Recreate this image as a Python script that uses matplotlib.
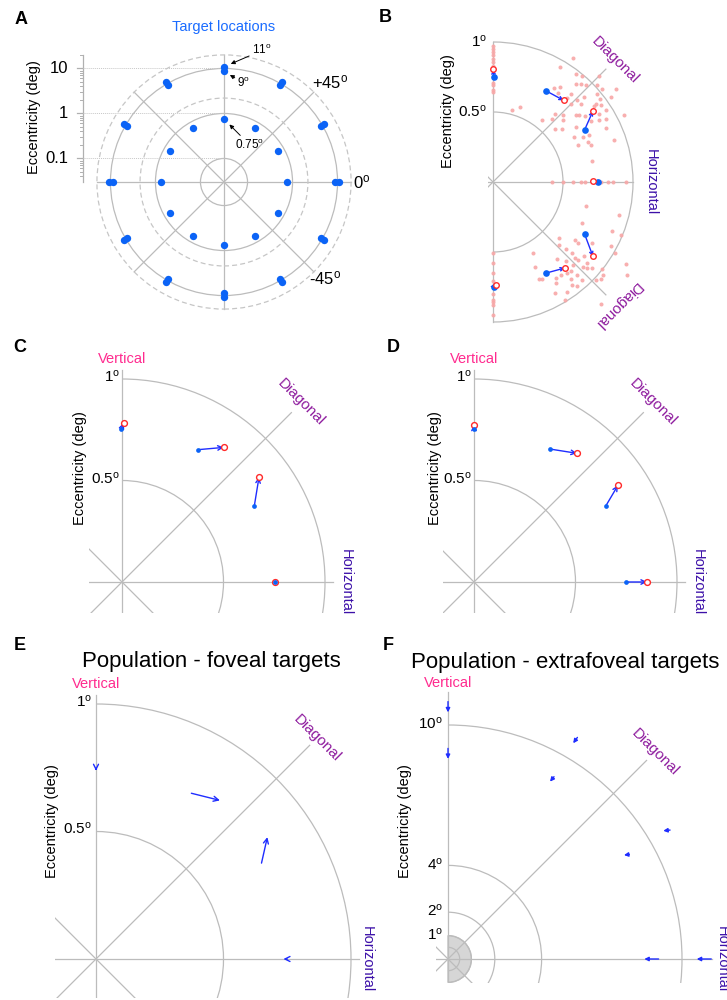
import numpy as np
import matplotlib
matplotlib.use("Agg")
import matplotlib.pyplot as plt
from matplotlib.patches import Arc, Circle, Wedge

plt.rcParams["font.family"] = ["Liberation Sans", "DejaVu Sans"]
plt.rcParams["mathtext.fontset"] = "custom"
plt.rcParams["mathtext.rm"] = "Liberation Sans"
plt.rcParams["mathtext.it"] = "Liberation Sans:italic"
plt.rcParams["mathtext.bf"] = "Liberation Sans:bold"

FIG_W, FIG_H = 727, 1000

GRID = "#bcbcbc"
DASH = "#c6c6c6"
DOT_BLUE = "#0b63f6"
ARROW_BLUE = "#1f2dff"
LAND_RED = "#ff2a2a"
TRIAL_PINK = "#f8a7a7"
VERT_COL = "#ff2b8f"
DIAG_COL = "#8e1b9e"
HORIZ_COL = "#3c10a8"

# --------------------------------------------------------------------------- #
# Data
# --------------------------------------------------------------------------- #
# A: target layout (eccentricity in deg, direction in deg)
TARGET_ANGLES = np.arange(0, 360, 30)
TARGET_ECC = [0.75, 9.0, 11.0]
RINGS_SOLID = [0.1, 1.0, 10.0]
RINGS_DASHED = [2.2, 20.0]
ECC_MAJOR = [0.1, 1.0, 10.0]
ECC_MAJOR_LABELS = ["0.1", "1", "10"]
ECC_MINOR = [0.04, 0.05, 0.06, 0.07, 0.08, 0.09,
             0.2, 0.3, 0.4, 0.5, 0.6, 0.7, 0.8, 0.9,
             2, 3, 4, 5, 6, 7, 8, 9, 20]
ECC_ORIGIN = 0.03

# B: single session, targets, mean landing and single trials (deg)
B_TARGET_X = [0.005, 0.381, 0.655, 0.752, 0.655, 0.381, 0.005]
B_TARGET_Y = [0.750, 0.650, 0.374, 0.0, -0.374, -0.650, -0.750]
B_LAND_X = [0.002, 0.505, 0.714, 0.714, 0.714, 0.514, 0.024]
B_LAND_Y = [0.805, 0.583, 0.507, 0.007, -0.531, -0.614, -0.738]

B_TRIAL_X = [
    # upper cloud
    0.574, 0.479, 0.590, 0.633, 0.757, 0.436, 0.479, 0.590, 0.626, 0.662,
    0.745, 0.781, 0.876, 0.464, 0.560, 0.531, 0.650, 0.745, 0.840, 0.762,
    0.560, 0.626, 0.598, 0.733, 0.721, 0.769, 0.193, 0.138, 0.440, 0.500,
    0.590, 0.614, 0.655, 0.757, 0.805, 0.936, 0.352, 0.424, 0.502, 0.698,
    0.757, 0.805, 0.440, 0.493, 0.590, 0.805, 0.579, 0.643, 0.686, 0.864,
    0.610, 0.679, 0.698, 0.710,
    # lower cloud
    0.662, 0.900, 0.638, 0.852, 0.912, 0.471, 0.583, 0.607, 0.710, 0.471,
    0.840, 0.524, 0.567, 0.871, 0.288, 0.650, 0.586, 0.455, 0.519, 0.610,
    0.669, 0.571, 0.645, 0.671, 0.710, 0.300, 0.948, 0.560, 0.781, 0.531,
    0.602, 0.483, 0.788, 0.960, 0.329, 0.352, 0.448, 0.555, 0.638, 0.733,
    0.769, 0.448, 0.567, 0.598, 0.531, 0.440, 0.514, 0.769,
    # vertical (upper), vertical (lower), horizontal
    0, 0, 0, 0, 0, 0, 0, 0, 0, 0, 0,
    0, 0, 0, 0, 0, 0, 0, 0, 0,
    0.42, 0.50, 0.57, 0.63, 0.66, 0.72, 0.77, 0.82, 0.86, 0.95,
]
B_TRIAL_Y = [
    0.888, 0.821, 0.769, 0.757, 0.757, 0.674, 0.679, 0.698, 0.698, 0.690,
    0.690, 0.667, 0.662, 0.638, 0.626, 0.600, 0.607, 0.631, 0.607, 0.590,
    0.560, 0.560, 0.583, 0.560, 0.543, 0.548, 0.536, 0.512, 0.488, 0.481,
    0.476, 0.476, 0.471, 0.488, 0.512, 0.476, 0.440, 0.452, 0.440, 0.436,
    0.440, 0.452, 0.381, 0.381, 0.393, 0.388, 0.321, 0.321, 0.333, 0.302,
    0.262, 0.286, 0.262, 0.150,
    -0.174, -0.238, -0.290, -0.350, -0.376, -0.400, -0.417, -0.436, -0.436, -0.448,
    -0.457, -0.481, -0.505, -0.505, -0.505, -0.529, -0.540, -0.548, -0.567, -0.560,
    -0.576, -0.590, -0.607, -0.614, -0.614, -0.607, -0.588, -0.636, -0.624, -0.650,
    -0.662, -0.662, -0.667, -0.667, -0.690, -0.690, -0.686, -0.690, -0.702, -0.698,
    -0.690, -0.719, -0.738, -0.745, -0.786, -0.790, -0.840, -0.869,
    0.97, 0.95, 0.93, 0.91, 0.88, 0.86, 0.83, 0.71, 0.69, 0.66, 0.64,
    -0.51, -0.58, -0.65, -0.71, -0.80, -0.84, -0.86, -0.88, -0.95,
    0, 0, 0, 0, 0, 0, 0, 0, 0, 0,
]

# C, D: example sessions, foveal targets
C_TARGET_X = [-0.003, 0.376, 0.652, 0.752]
C_TARGET_Y = [0.754, 0.652, 0.376, 0.0]
C_LAND_X = [0.008, 0.501, 0.675, 0.752]
C_LAND_Y = [0.783, 0.663, 0.517, 0.0]

D_TARGET_X = [0.0, 0.374, 0.650, 0.750]
D_TARGET_Y = [0.755, 0.655, 0.376, 0.0]
D_LAND_X = [0.0, 0.507, 0.709, 0.852]
D_LAND_Y = [0.775, 0.634, 0.476, 0.0]

# E, F: population mean shifts
E_TAIL_X = [0.0, 0.374, 0.649, 0.750]
E_TAIL_Y = [0.750, 0.650, 0.376, 0.0]
E_HEAD_X = [0.0, 0.486, 0.672, 0.735]
E_HEAD_Y = [0.738, 0.622, 0.478, 0.0]

F_TAIL_X = [0.0, 0.0, 5.53, 4.53, 9.49, 7.75, 11.25, 9.0]
F_TAIL_Y = [11.0, 9.0, 9.47, 7.79, 5.51, 4.47, 0.0, 0.0]
F_HEAD_X = [0.0, 0.0, 5.35, 4.36, 9.20, 7.52, 10.63, 8.39]
F_HEAD_Y = [10.54, 8.55, 9.22, 7.58, 5.48, 4.44, 0.0, 0.0]
F_RINGS = [0.5, 1, 2, 4, 10]
F_RING_LABELS = [1, 2, 4, 10]


def deg(s):
    return f"{s}" + r"$^{\mathrm{o}}$"


def panel_axes(fig, box, center, scale):
    """Axes in data units of `scale` pixels, origin at pixel `center`."""
    x0, y0, x1, y1 = box
    cx, cy = center
    ax = fig.add_axes([x0 / FIG_W, 1 - y1 / FIG_H,
                       (x1 - x0) / FIG_W, (y1 - y0) / FIG_H])
    ax.set_xlim((x0 - cx) / scale, (x1 - cx) / scale)
    ax.set_ylim((cy - y1) / scale, (cy - y0) / scale)
    ax.axis("off")
    return ax


def guides(ax, vert, horiz, diag, anti, lw=0.9):
    c45 = np.cos(np.pi / 4)
    ax.plot([0, 0], vert, color=GRID, lw=lw, zorder=1)
    ax.plot(horiz, [0, 0], color=GRID, lw=lw, zorder=1)
    d = np.array(diag)
    ax.plot(d * c45, d * c45, color=GRID, lw=lw, zorder=1)
    a = np.array(anti)
    ax.plot(-a * c45, a * c45, color=GRID, lw=lw, zorder=1)


def half_rings(ax, radii, lw=0.9):
    for r in radii:
        ax.add_patch(Arc((0, 0), 2 * r, 2 * r, theta1=-90, theta2=90,
                         color=GRID, lw=lw, zorder=1))


def direction_labels(ax, vert_y, diag_r, horiz_x, size=10.5, vertical=True):
    c45 = np.cos(np.pi / 4)
    if vertical:
        ax.text(0, vert_y, "Vertical", color=VERT_COL, fontsize=size,
                ha="center", va="center")
    ax.text(diag_r * c45, diag_r * c45, "Diagonal", color=DIAG_COL,
            fontsize=size + 0.5, rotation=-45, ha="center", va="center",
            rotation_mode="anchor")
    ax.text(horiz_x, 0, "Horizontal", color=HORIZ_COL, fontsize=size,
            rotation=-90, ha="center", va="center", rotation_mode="anchor")


def shift_arrows(ax, tx, ty, hx, hy, style="->", scale=8, lw=1.0):
    for x0, y0, x1, y1 in zip(tx, ty, hx, hy):
        ax.annotate("", xy=(x1, y1), xytext=(x0, y0),
                    arrowprops=dict(arrowstyle=style, color=ARROW_BLUE, lw=lw,
                                    shrinkA=0, shrinkB=0,
                                    mutation_scale=scale),
                    zorder=3)


fig = plt.figure(figsize=(FIG_W / 100, FIG_H / 100), dpi=100)

# --------------------------------------------------------------------------- #
# A: target locations on a log-eccentricity polar grid
# --------------------------------------------------------------------------- #
def rho(r):
    return np.log10(np.asarray(r, dtype=float) / ECC_ORIGIN)


axA = panel_axes(fig, (0, 20, 370, 325), (224, 182), 45)
rmax = rho(20.0)
guides(axA, (-rmax, rmax), (-rmax, rmax), (-rmax, rmax), (-rmax, rmax))
for r in RINGS_SOLID:
    axA.add_patch(Circle((0, 0), rho(r), fill=False, ec=GRID, lw=0.9, zorder=1))
for r in RINGS_DASHED:
    axA.add_patch(Circle((0, 0), rho(r), fill=False, ec=DASH, lw=0.9,
                         ls=(0, (4, 2.5)), zorder=1))

th = np.deg2rad(TARGET_ANGLES)
for e in TARGET_ECC:
    axA.plot(rho(e) * np.cos(th), rho(e) * np.sin(th), "o", color=DOT_BLUE,
             ms=5.3, mec="none", zorder=3)

# eccentricity axis on the left
ax_x = -3.133
axA.plot([ax_x, ax_x], [0, rmax], color="#b0b0b0", lw=0.9)
for v in ECC_MINOR:
    axA.plot([ax_x - 0.07, ax_x], [rho(v)] * 2, color="#b0b0b0", lw=0.7)
for v, lab in zip(ECC_MAJOR, ECC_MAJOR_LABELS):
    axA.plot([ax_x - 0.14, ax_x], [rho(v)] * 2, color="#b0b0b0", lw=0.9)
    axA.plot([ax_x, 0], [rho(v)] * 2, color="#c8c8c8", lw=0.7, ls=(0, (1, 1)))
    axA.text(ax_x - 0.33, rho(v), lab, ha="right", va="center", fontsize=12)
axA.text(-4.22, 1.44, "Eccentricity (deg)", rotation=90, ha="center",
         va="center", fontsize=10.5)
axA.text(0, 3.44, "Target locations", color="#1a6cff", ha="center",
         va="center", fontsize=10.5)
axA.text(2.36, 2.22, deg("+45"), ha="center", va="center", fontsize=12)
axA.text(3.07, 0.0, deg("0"), ha="center", va="center", fontsize=12)
axA.text(2.24, -2.13, deg("-45"), ha="center", va="center", fontsize=12)

ann = dict(arrowstyle="-|>", color="black", lw=0.7, mutation_scale=6,
           shrinkA=0, shrinkB=0)
axA.annotate(deg("11"), xy=(0.15, rho(11) + 0.06), xytext=(0.62, 2.92),
             fontsize=8.5, ha="left", va="center", arrowprops=ann)
axA.annotate(deg("9"), xy=(0.13, rho(9) - 0.1), xytext=(0.30, 2.2),
             fontsize=8.5, ha="left", va="center", arrowprops=ann)
axA.annotate(deg("0.75"), xy=(0.12, rho(0.75) - 0.12), xytext=(0.25, 0.82),
             fontsize=8.5, ha="left", va="center", arrowprops=ann)

# --------------------------------------------------------------------------- #
# B: single session, all trials
# --------------------------------------------------------------------------- #
axB = panel_axes(fig, (488, 30, 670, 330), (493, 182), 140)
guides(axB, (-1.0, 1.0), (-0.1, 1.0), (-0.1, 1.14), (-1.14, 0.1))
half_rings(axB, [0.5, 1.0])
axB.plot(B_TRIAL_X, B_TRIAL_Y, "o", color=TRIAL_PINK, ms=2.9, mec="none",
         alpha=0.9, zorder=2, clip_on=False)
shift_arrows(axB, B_TARGET_X, B_TARGET_Y, B_LAND_X, B_LAND_Y, scale=6)
axB.plot(B_TARGET_X, B_TARGET_Y, "o", color=DOT_BLUE, ms=4.8, mec="none",
         zorder=4, clip_on=False)
axB.plot(B_LAND_X, B_LAND_Y, "o", mfc="white", mec=LAND_RED, ms=4.0, mew=1.0,
         zorder=5, clip_on=False)
axB.text(-0.045, 1.0, deg("1"), ha="right", va="center", fontsize=11)
axB.text(-0.045, 0.5, deg("0.5"), ha="right", va="center", fontsize=11)
axB.text(-0.32, 0.51, "Eccentricity (deg)", rotation=90, ha="center",
         va="center", fontsize=10.5)
direction_labels(axB, 0, 1.23, 1.13, vertical=False)
axB.text(0.886, -0.879, "Diagonal", color=DIAG_COL, fontsize=11,
         rotation=-135, ha="center", va="center", rotation_mode="anchor")

# --------------------------------------------------------------------------- #
# C, D: example sessions, mean shift per target
# --------------------------------------------------------------------------- #
def session_panel(box, center, tx, ty, lx, ly, label_x):
    ax = panel_axes(fig, box, center, 203)
    guides(ax, (-1.0, 1.044), (-1.0, 1.04), (-1.0, 1.18), (-1.0, 1.0))
    half_rings(ax, [0.5, 1.0])
    shift_arrows(ax, tx, ty, lx, ly, scale=8)
    ax.plot(lx, ly, "o", mfc="white", mec=LAND_RED, ms=4.2, mew=1.0,
            zorder=4, clip_on=False)
    ax.plot(tx, ty, "o", color=DOT_BLUE, ms=3.4, mec="none", zorder=5,
            clip_on=False)
    ax.text(-0.01, 1.01, deg("1"), ha="right", va="center", fontsize=11)
    ax.text(-0.01, 0.51, deg("0.5"), ha="right", va="center", fontsize=11)
    ax.text(label_x, 0.56, "Eccentricity (deg)", rotation=90, ha="center",
            va="center", fontsize=10.5)
    direction_labels(ax, 1.10, 1.25, 1.10)
    return ax


session_panel((89, 355, 362, 613), (122, 582),
              C_TARGET_X, C_TARGET_Y, C_LAND_X, C_LAND_Y, -0.207)
session_panel((443, 355, 727, 613), (474, 582),
              D_TARGET_X, D_TARGET_Y, D_LAND_X, D_LAND_Y, -0.19)

# --------------------------------------------------------------------------- #
# E: population, foveal targets
# --------------------------------------------------------------------------- #
axE = panel_axes(fig, (55, 670, 372, 998), (96, 959), 255)
guides(axE, (-1.0, 1.035), (-1.0, 1.03), (-1.0, 1.185), (-1.0, 1.0))
half_rings(axE, [0.5, 1.0])
shift_arrows(axE, E_TAIL_X, E_TAIL_Y, E_HEAD_X, E_HEAD_Y, scale=9)
axE.text(-0.016, 1.01, deg("1"), ha="right", va="center", fontsize=11)
axE.text(-0.016, 0.51, deg("0.5"), ha="right", va="center", fontsize=11)
axE.text(-0.173, 0.54, "Eccentricity (deg)", rotation=90, ha="center",
         va="center", fontsize=10.5)
direction_labels(axE, 1.08, 1.225, 1.06)
axE.text(0.451, 1.165, "Population - foveal targets", ha="center",
         va="center", fontsize=16)

# --------------------------------------------------------------------------- #
# F: population, extrafoveal targets
# --------------------------------------------------------------------------- #
axF = panel_axes(fig, (436, 680, 727, 983), (448, 959), 23.4)
axF.add_patch(Wedge((0, 0), 1.0, -90, 90, fc="#d6d6d6", ec=GRID, lw=0.9,
                    zorder=0))
guides(axF, (-3, 11.4), (-3, 11.3), (-3, 12.0), (-3, 3))
half_rings(axF, F_RINGS)
shift_arrows(axF, F_TAIL_X, F_TAIL_Y, F_HEAD_X, F_HEAD_Y, style="-|>",
             scale=6)
for r in F_RING_LABELS:
    axF.text(-0.21, r + 0.05, deg(r), ha="right", va="center", fontsize=11)
axF.text(-1.84, 5.9, "Eccentricity (deg)", rotation=90, ha="center",
         va="center", fontsize=10.5)
direction_labels(axF, 11.8, 12.5, 11.7)
axF.text(5.0, 12.69, "Population - extrafoveal targets", ha="center",
         va="center", fontsize=16)

# panel letters
for letter, (px, py) in {"A": (21, 19), "B": (385, 18), "C": (20, 347),
                         "D": (393, 347), "E": (20, 645),
                         "F": (388, 645)}.items():
    fig.text(px / FIG_W, 1 - py / FIG_H, letter, fontsize=13,
             fontweight="bold", ha="center", va="center")

fig.savefig("out.png", dpi=100, facecolor="white")
